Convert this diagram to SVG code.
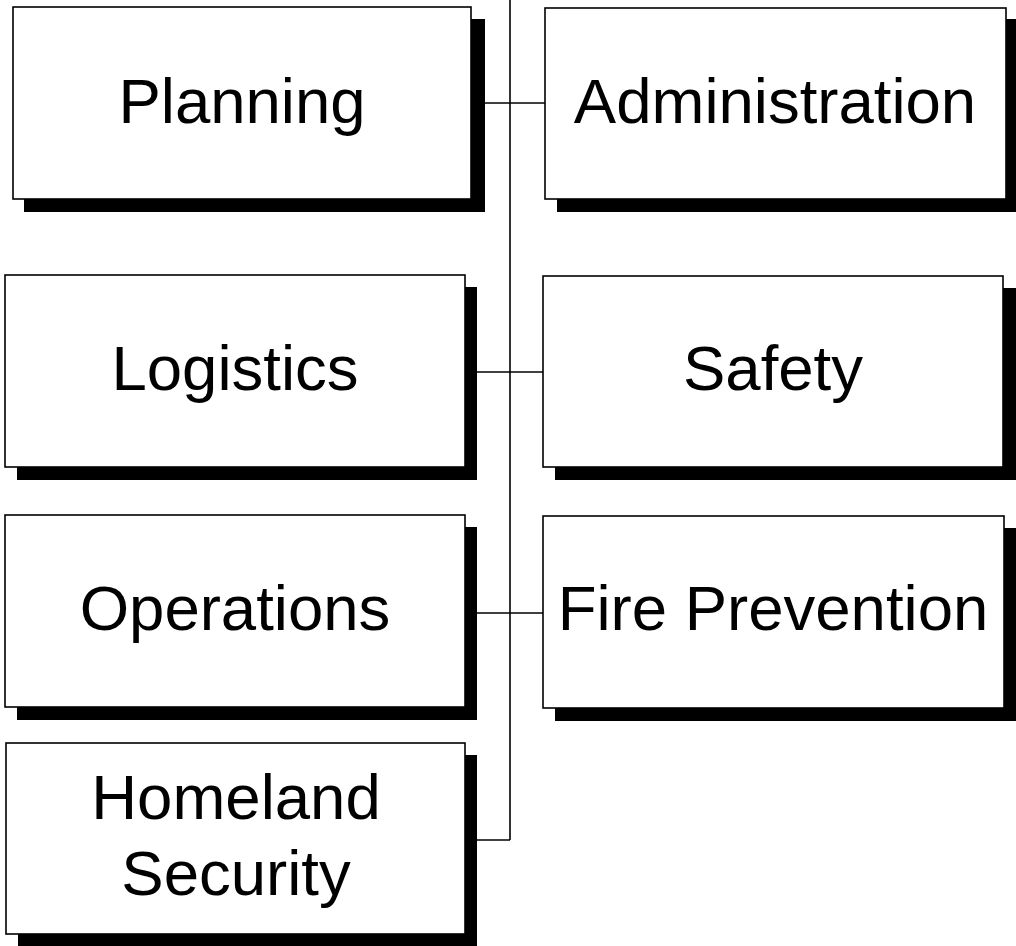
<svg xmlns="http://www.w3.org/2000/svg" width="1016" height="946" viewBox="0 0 1016 946">
<style>
.box{fill:#fff;stroke:#000;stroke-width:1.6}
.sh{fill:#000}
.lbl{font-family:"Liberation Sans",Arial,sans-serif;font-size:63.5px;fill:#000;text-anchor:middle}
.con{fill:none;stroke:#000;stroke-width:1.6}
</style>
<rect width="1016" height="946" fill="#fff"/>
<g id="connectors">
<line class="con" x1="510" y1="0" x2="510" y2="840"/>
<line class="con" x1="485" y1="103" x2="545" y2="103"/>
<line class="con" x1="477" y1="372" x2="543" y2="372"/>
<line class="con" x1="477" y1="613" x2="543" y2="613"/>
<line class="con" x1="477" y1="840" x2="510" y2="840"/>
</g>
<g id="planning">
<rect class="sh" x="24" y="19" width="461" height="193"/>
<rect class="box" x="13" y="7" width="458" height="192"/>
<text class="lbl" x="242" y="123">Planning</text>
</g>
<g id="administration">
<rect class="sh" x="557" y="19" width="461" height="193"/>
<rect class="box" x="545" y="8" width="461" height="191"/>
<text class="lbl" x="775" y="123">Administration</text>
</g>
<g id="logistics">
<rect class="sh" x="17" y="287" width="460" height="193"/>
<rect class="box" x="5" y="275" width="460" height="192"/>
<text class="lbl" x="235" y="390">Logistics</text>
</g>
<g id="safety">
<rect class="sh" x="555" y="288" width="463" height="192"/>
<rect class="box" x="543" y="276" width="460" height="191"/>
<text class="lbl" x="773" y="390">Safety</text>
</g>
<g id="operations">
<rect class="sh" x="17" y="527" width="460" height="193"/>
<rect class="box" x="5" y="515" width="460" height="192"/>
<text class="lbl" x="235" y="630">Operations</text>
</g>
<g id="fire-prevention">
<rect class="sh" x="555" y="528" width="463" height="193"/>
<rect class="box" x="543" y="516" width="461" height="192"/>
<text class="lbl" x="773" y="630">Fire Prevention</text>
</g>
<g id="homeland-security">
<rect class="sh" x="18" y="755" width="459" height="193"/>
<rect class="box" x="6" y="743" width="459" height="191"/>
<text class="lbl" x="236" y="819">Homeland</text>
<text class="lbl" x="236" y="895">Security</text>
</g>
</svg>
